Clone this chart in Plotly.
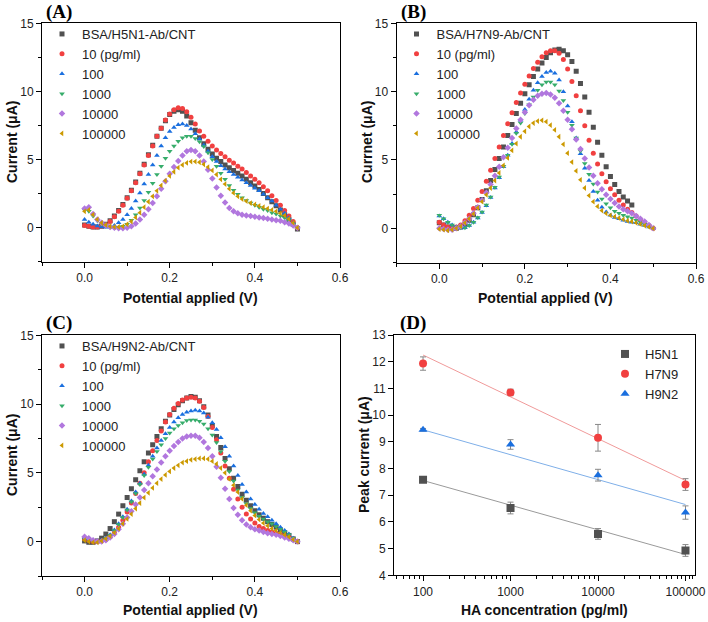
import plotly.graph_objects as go

# ---------------- data ----------------
V = [0.00, 0.01, 0.02, 0.03, 0.04, 0.05, 0.06, 0.07, 0.08, 0.09,
     0.10, 0.11, 0.12, 0.13, 0.14, 0.15, 0.16, 0.17, 0.18, 0.19,
     0.20, 0.21, 0.22, 0.23, 0.24, 0.25, 0.26, 0.27, 0.28, 0.29,
     0.30, 0.31, 0.32, 0.33, 0.34, 0.35, 0.36, 0.37, 0.38, 0.39,
     0.40, 0.41, 0.42, 0.43, 0.44, 0.45, 0.46, 0.47, 0.48, 0.49, 0.50]

series_names = ["10 (pg/ml)", "100", "1000", "10000", "100000"]

# Panel A  (BSA/H5N1-Ab/CNT)
A_bsa = [0.2, 0.1, 0.05, 0.05, 0.1, 0.25, 0.5, 0.85, 1.25, 1.7, 2.2, 2.75, 3.35, 4.0, 4.65, 5.35, 6.05, 6.7, 7.3, 7.85,
         8.3, 8.55, 8.65, 8.55, 8.2, 7.7, 7.15, 6.6, 6.15, 5.75, 5.4, 5.1, 4.85, 4.6, 4.4, 4.2, 4.0, 3.8, 3.55, 3.3,
         3.05, 2.8, 2.5, 2.2, 1.9, 1.6, 1.3, 0.95, 0.6, 0.25, -0.1]
A_10 = [0.15, 0.1, 0.05, 0.05, 0.1, 0.2, 0.45, 0.8, 1.2, 1.65, 2.15, 2.7, 3.3, 3.95, 4.6, 5.3, 6.0, 6.7, 7.3, 7.9,
        8.35, 8.65, 8.8, 8.75, 8.5, 8.1, 7.6, 7.1, 6.7, 6.35, 6.0, 5.7, 5.45, 5.2, 4.95, 4.75, 4.5, 4.3, 4.05, 3.8,
        3.55, 3.3, 3.0, 2.7, 2.35, 2.0, 1.65, 1.25, 0.85, 0.45, 0.0]
A_100 = [0.6, 0.4, 0.25, 0.12, 0.05, 0.02, 0.05, 0.15, 0.35, 0.6, 0.95, 1.4, 1.95, 2.55, 3.2, 3.9, 4.6, 5.3, 6.0, 6.6,
         7.05, 7.35, 7.55, 7.6, 7.5, 7.25, 6.9, 6.5, 6.05, 5.6, 5.2, 4.85, 4.55, 4.3, 4.1, 3.9, 3.7, 3.5, 3.3, 3.1,
         2.9, 2.7, 2.45, 2.2, 1.95, 1.65, 1.35, 1.05, 0.7, 0.35, 0.0]
A_1000 = [1.3, 1.2, 0.85, 0.5, 0.25, 0.1, 0.03, 0.0, 0.02, 0.1, 0.25, 0.55, 0.95, 1.45, 2.0, 2.6, 3.25, 3.9, 4.5, 5.1,
          5.6, 6.0, 6.35, 6.6, 6.7, 6.7, 6.55, 6.3, 5.95, 5.5, 5.0, 4.5, 4.0, 3.55, 3.1, 2.75, 2.45, 2.2, 2.0, 1.8,
          1.65, 1.5, 1.35, 1.25, 1.1, 1.0, 0.85, 0.7, 0.5, 0.25, 0.0]
A_10000 = [1.4, 1.5, 1.0, 0.6, 0.35, 0.15, 0.05, 0.0, -0.05, -0.05, 0.0, 0.1, 0.3, 0.6, 0.95, 1.35, 1.8, 2.3, 2.85, 3.4,
           3.95, 4.45, 4.9, 5.3, 5.6, 5.7, 5.6, 5.3, 4.85, 4.25, 3.6, 2.95, 2.35, 1.85, 1.45, 1.2, 1.05, 0.95, 0.9, 0.85,
           0.8, 0.75, 0.7, 0.65, 0.6, 0.55, 0.5, 0.4, 0.3, 0.15, 0.0]
A_100000 = [1.2, 1.3, 0.95, 0.6, 0.35, 0.2, 0.1, 0.05, 0.05, 0.1, 0.25, 0.45, 0.75, 1.1, 1.5, 1.9, 2.3, 2.7, 3.1, 3.45,
            3.8, 4.1, 4.4, 4.6, 4.75, 4.85, 4.85, 4.8, 4.65, 4.45, 4.2, 3.9, 3.55, 3.2, 2.85, 2.55, 2.3, 2.1, 1.95, 1.8,
            1.7, 1.6, 1.5, 1.4, 1.3, 1.2, 1.05, 0.9, 0.65, 0.35, 0.0]

# Panel B  (BSA/H7N9-Ab/CNT) -- blank series stops at 0.45 V
B_bsa = [0.4, 0.25, 0.1, 0.0, 0.0, 0.1, 0.3, 0.6, 1.0, 1.5, 2.1, 2.75, 3.5, 4.3, 5.1, 5.95, 6.8, 7.6, 8.4, 9.15,
         9.85, 10.5, 11.1, 11.65, 12.1, 12.5, 12.85, 13.05, 13.1, 13.0, 12.7, 12.2, 11.5, 10.6, 9.6, 8.5, 7.4, 6.3, 5.35, 4.5,
         3.8, 3.2, 2.7, 2.3, 2.0, 1.7]
B_10 = [0.45, 0.25, 0.1, 0.05, 0.1, 0.25, 0.55, 0.95, 1.45, 2.05, 2.7, 3.45, 4.25, 5.1, 5.95, 6.8, 7.65, 8.45, 9.2, 9.9,
        10.55, 11.15, 11.7, 12.15, 12.55, 12.85, 13.0, 13.0, 12.8, 12.35, 11.65, 10.75, 9.7, 8.6, 7.5, 6.45, 5.5, 4.7, 4.0, 3.4,
        2.9, 2.45, 2.05, 1.7, 1.4, 1.15, 0.9, 0.65, 0.45, 0.2, 0.0]
B_100 = [0.9, 0.7, 0.45, 0.25, 0.1, 0.02, 0.05, 0.2, 0.45, 0.75, 1.15, 1.65, 2.25, 2.95, 3.7, 4.5, 5.35, 6.2, 7.05, 7.9,
         8.7, 9.45, 10.1, 10.65, 11.1, 11.4, 11.5, 11.35, 10.85, 10.0, 8.95, 7.8, 6.6, 5.45, 4.4, 3.5, 2.7, 2.05, 1.55, 1.2,
         0.95, 0.8, 0.7, 0.6, 0.5, 0.45, 0.4, 0.3, 0.2, 0.1, 0.0]
B_1000 = [0.95, 0.7, 0.45, 0.25, 0.1, 0.05, 0.05, 0.2, 0.45, 0.8, 1.2, 1.7, 2.3, 3.0, 3.75, 4.55, 5.35, 6.15, 6.95, 7.7,
          8.4, 9.05, 9.6, 10.1, 10.5, 10.7, 10.7, 10.5, 10.05, 9.35, 8.5, 7.55, 6.6, 5.65, 4.75, 3.95, 3.25, 2.65, 2.15, 1.8,
          1.5, 1.25, 1.1, 0.95, 0.85, 0.75, 0.6, 0.45, 0.3, 0.15, 0.0]
B_10000 = [0.0, -0.05, -0.1, -0.1, 0.0, 0.15, 0.4, 0.7, 1.1, 1.55, 2.05, 2.6, 3.2, 3.85, 4.5, 5.2, 5.9, 6.6, 7.3, 7.95,
           8.5, 9.0, 9.4, 9.7, 9.85, 9.9, 9.8, 9.55, 9.15, 8.6, 7.95, 7.25, 6.5, 5.8, 5.1, 4.45, 3.85, 3.3, 2.85, 2.45,
           2.15, 1.85, 1.6, 1.4, 1.25, 1.1, 0.9, 0.7, 0.5, 0.25, 0.0]
B_100000 = [-0.05, -0.1, -0.15, -0.1, 0.0, 0.15, 0.4, 0.7, 1.05, 1.5, 1.95, 2.45, 2.95, 3.5, 4.05, 4.6, 5.15, 5.7, 6.2, 6.7,
            7.1, 7.45, 7.7, 7.85, 7.9, 7.8, 7.55, 7.2, 6.7, 6.15, 5.5, 4.85, 4.2, 3.55, 2.95, 2.4, 1.95, 1.6, 1.3, 1.1,
            0.95, 0.85, 0.75, 0.65, 0.55, 0.5, 0.4, 0.3, 0.2, 0.1, 0.0]

# Panel C  (BSA/H9N2-Ab/CNT)
C_bsa = [0.05, -0.05, -0.05, 0.05, 0.25, 0.55, 0.95, 1.45, 2.0, 2.6, 3.2, 3.85, 4.5, 5.15, 5.8, 6.45, 7.05, 7.65, 8.2, 8.75,
         9.2, 9.6, 9.95, 10.25, 10.45, 10.55, 10.5, 10.25, 9.8, 9.2, 8.45, 7.65, 6.85, 6.05, 5.3, 4.6, 4.0, 3.45, 3.0, 2.6,
         2.25, 1.95, 1.7, 1.45, 1.25, 1.05, 0.85, 0.65, 0.45, 0.2, 0.0]
C_10 = [0.2, 0.1, 0.0, 0.0, 0.05, 0.15, 0.35, 0.65, 1.05, 1.55, 2.15, 2.8, 3.5, 4.25, 5.0, 5.8, 6.6, 7.35, 8.05, 8.7,
        9.25, 9.7, 10.05, 10.3, 10.45, 10.5, 10.45, 10.2, 9.75, 9.1, 8.3, 7.4, 6.45, 5.5, 4.6, 3.8, 3.1, 2.5, 2.0, 1.65,
        1.35, 1.1, 0.95, 0.8, 0.7, 0.6, 0.5, 0.4, 0.3, 0.15, 0.0]
C_100 = [0.3, 0.2, 0.1, 0.05, 0.1, 0.25, 0.5, 0.85, 1.3, 1.8, 2.35, 2.95, 3.6, 4.25, 4.9, 5.55, 6.2, 6.8, 7.35, 7.85,
         8.3, 8.7, 9.0, 9.25, 9.4, 9.5, 9.55, 9.5, 9.35, 9.05, 8.65, 8.15, 7.55, 6.9, 6.2, 5.5, 4.8, 4.15, 3.6, 3.1,
         2.7, 2.35, 2.05, 1.8, 1.55, 1.3, 1.05, 0.8, 0.55, 0.25, 0.0]
C_1000 = [0.2, 0.1, 0.0, 0.0, 0.05, 0.2, 0.45, 0.8, 1.25, 1.75, 2.3, 2.9, 3.5, 4.15, 4.8, 5.4, 6.0, 6.55, 7.05, 7.5,
          7.9, 8.2, 8.45, 8.65, 8.8, 8.85, 8.85, 8.75, 8.55, 8.2, 7.75, 7.2, 6.55, 5.85, 5.1, 4.4, 3.75, 3.2, 2.75, 2.4,
          2.1, 1.85, 1.65, 1.45, 1.3, 1.1, 0.9, 0.7, 0.5, 0.25, 0.0]
C_10000 = [0.35, 0.25, 0.1, 0.0, 0.0, 0.1, 0.3, 0.55, 0.9, 1.3, 1.75, 2.2, 2.7, 3.2, 3.75, 4.25, 4.75, 5.25, 5.75, 6.2,
           6.6, 6.95, 7.25, 7.5, 7.65, 7.7, 7.7, 7.55, 7.25, 6.8, 6.2, 5.45, 4.65, 3.85, 3.1, 2.45, 1.95, 1.55, 1.25, 1.05,
           0.9, 0.8, 0.7, 0.6, 0.55, 0.5, 0.4, 0.3, 0.2, 0.1, 0.0]
C_100000 = [0.1, 0.0, -0.05, -0.05, 0.05, 0.2, 0.4, 0.65, 0.95, 1.3, 1.65, 2.0, 2.4, 2.8, 3.2, 3.55, 3.9, 4.25, 4.55, 4.85,
            5.1, 5.35, 5.55, 5.75, 5.85, 5.95, 6.0, 6.05, 6.05, 6.0, 5.85, 5.65, 5.35, 5.0, 4.55, 4.1, 3.6, 3.1, 2.65, 2.25,
            1.9, 1.6, 1.35, 1.15, 0.95, 0.8, 0.65, 0.5, 0.35, 0.15, 0.0]

# Panel D  (peak current vs HA concentration)
conc = [100, 1000, 10000, 100000]
H5N1_peak = [7.58, 6.52, 5.55, 4.93]
H5N1_err = [0.05, 0.22, 0.20, 0.22]
H7N9_peak = [11.93, 10.85, 9.15, 7.40]
H7N9_err = [0.25, 0.12, 0.50, 0.22]
H9N2_peak = [9.45, 8.90, 7.75, 6.35]
H9N2_err = [0.05, 0.18, 0.22, 0.25]
fit_x = [100, 100000]
H5N1_fit = [7.55, 4.78]
H7N9_fit = [12.25, 7.55]
H9N2_fit = [9.45, 6.65]

# ---------------- style ----------------
W, H = 708, 622
colors = ["#515151", "#F14040", "#1A6FDF", "#37AD6B", "#B177DE", "#CC9900"]
symbols = ["square", "circle", "triangle-up", "triangle-down", "diamond", "triangle-left"]
FONT = "Liberation Sans, Arial, sans-serif"

def px_dom(a, b):
    return [a / W, b / W]

def py_dom(top, bottom):
    return [1 - bottom / H, 1 - top / H]

fig = go.Figure()

panels = [
    ("x", "y", "legend", "BSA/H5N1-Ab/CNT", [A_bsa, A_10, A_100, A_1000, A_10000, A_100000]),
    ("x2", "y2", "legend2", "BSA/H7N9-Ab/CNT", [B_bsa, B_10, B_100, B_1000, B_10000, B_100000]),
    ("x3", "y3", "legend3", "BSA/H9N2-Ab/CNT", [C_bsa, C_10, C_100, C_1000, C_10000, C_100000]),
]
for xa, ya, lg, blank, curves in panels:
    names = [blank] + series_names
    for i, (nm, yv) in enumerate(zip(names, curves)):
        fig.add_trace(go.Scatter(
            x=V[:len(yv)], y=yv, mode="markers", name=nm,
            marker=dict(symbol=symbols[i], color=colors[i], size=5, line=dict(width=0)),
            xaxis=xa, yaxis=ya, legend=lg, showlegend=True))

# Panel D fits
for fy, fc in [(H5N1_fit, "#9a9a9a"), (H7N9_fit, "#F09A9A"), (H9N2_fit, "#7FAFE8")]:
    fig.add_trace(go.Scatter(x=fit_x, y=fy, mode="lines", line=dict(color=fc, width=1),
                             xaxis="x4", yaxis="y4", showlegend=False, hoverinfo="skip"))
for nm, yv, ev, c, s in [("H5N1", H5N1_peak, H5N1_err, colors[0], "square"),
                         ("H7N9", H7N9_peak, H7N9_err, colors[1], "circle"),
                         ("H9N2", H9N2_peak, H9N2_err, colors[2], "triangle-up")]:
    fig.add_trace(go.Scatter(
        x=conc, y=yv, mode="markers", name=nm,
        error_y=dict(type="data", array=ev, visible=True, color="#888888", thickness=1, width=3),
        marker=dict(symbol=s, color=c, size=8, line=dict(width=0)),
        xaxis="x4", yaxis="y4", legend="legend4"))

tickfont = dict(family=FONT, size=12, color="#222222")
common = dict(showline=True, linecolor="black", linewidth=1, mirror=True, ticks="outside",
              ticklen=5, tickwidth=1, tickcolor="black", showgrid=False, zeroline=False,
              tickfont=tickfont, automargin=False)

def cv_x(dom, anchor):
    return dict(domain=dom, anchor=anchor, range=[-0.1, 0.6],
                tickvals=[0.0, 0.2, 0.4, 0.6], ticktext=["0.0", "0.2", "0.4", "0.6"],
                minor=dict(tickvals=[-0.1, 0.1, 0.3, 0.5], ticks="outside", ticklen=3, tickcolor="black"),
                **common)

def cv_y(dom, anchor):
    return dict(domain=dom, anchor=anchor, range=[-2.5, 15],
                tickvals=[0, 5, 10, 15], ticktext=["0", "5", "10", "15"],
                minor=dict(tickvals=[-2.5, 2.5, 7.5, 12.5], ticks="outside", ticklen=3, tickcolor="black"),
                **common)

domA_x, domA_y = px_dom(42, 340), py_dom(23.3, 261.7)
domB_x, domB_y = px_dom(396.5, 696), py_dom(23.3, 262.5)
domC_x, domC_y = px_dom(42, 340), py_dom(335.3, 576)
domD_x, domD_y = px_dom(394, 694.5), py_dom(335, 575.3)

minor_log = [50, 60, 70, 80, 90] + [k * 100 for k in range(2, 10)] + \
            [k * 1000 for k in range(2, 10)] + [k * 10000 for k in range(2, 10)] + [110000, 120000]

legend_common = dict(font=dict(family=FONT, size=13, color="#222222"), bgcolor="rgba(0,0,0,0)",
                     xanchor="left", yanchor="top", tracegroupgap=0, itemwidth=30)

fig.update_layout(
    width=W, height=H, margin=dict(l=0, r=0, t=0, b=0, autoexpand=False),
    paper_bgcolor="white", plot_bgcolor="white",
    font=dict(family=FONT, size=12, color="#222222"),
    xaxis=cv_x(domA_x, "y"), yaxis=cv_y(domA_y, "x"),
    xaxis2=cv_x(domB_x, "y2"), yaxis2=cv_y(domB_y, "x2"),
    xaxis3=cv_x(domC_x, "y3"), yaxis3=cv_y(domC_y, "x3"),
    xaxis4=dict(domain=domD_x, anchor="y4", type="log", range=[1.668, 5.103],
                tickvals=conc, ticktext=["100", "1000", "10000", "100000"],
                minor=dict(tickvals=minor_log, ticks="outside", ticklen=3, tickcolor="black"),
                **common),
    yaxis4=dict(domain=domD_y, anchor="x4", range=[4, 13], dtick=1, tick0=4, **common),
    legend=dict(x=42 / W, y=1 - 19 / H, **legend_common),
    legend2=dict(x=396.5 / W, y=1 - 19 / H, **legend_common),
    legend3=dict(x=42 / W, y=1 - 331 / H, **legend_common),
    legend4=dict(x=605 / W, y=1 - 339 / H, **legend_common),
    showlegend=True,
)

def ann(text, x, y, size, bold=True, serif=False, angle=0):
    fig.add_annotation(text=f"<b>{text}</b>" if bold else text, x=x / W, y=1 - y / H,
                       xref="paper", yref="paper", showarrow=False, textangle=angle,
                       font=dict(family="Liberation Serif, Times New Roman, serif" if serif else FONT,
                                 size=size, color="black" if serif else "#111111"),
                       xanchor="center", yanchor="middle")

# panel labels
ann("(A)", 59, 12, 19, serif=True)
ann("(B)", 413, 12, 19, serif=True)
ann("(C)", 59, 323, 19, serif=True)
ann("(D)", 413, 323, 19, serif=True)
# axis titles
ann("Potential applied (V)", 190, 298, 14)
ann("Potential applied (V)", 545, 298, 14)
ann("Potential applied (V)", 190, 610, 14)
ann("HA concentration (pg/ml)", 544, 610, 14)
ann("Current (μA)", 12, 142, 14, angle=-90)
ann("Currnet (μA)", 367, 142, 14, angle=-90)
ann("Current (μA)", 12, 455, 14, angle=-90)
ann("Peak current (μA)", 364, 455, 14, angle=-90)

fig.write_html("out.html", config={"displayModeBar": False},
               post_script="document.body.style.margin='0';document.body.style.overflow='hidden';")
